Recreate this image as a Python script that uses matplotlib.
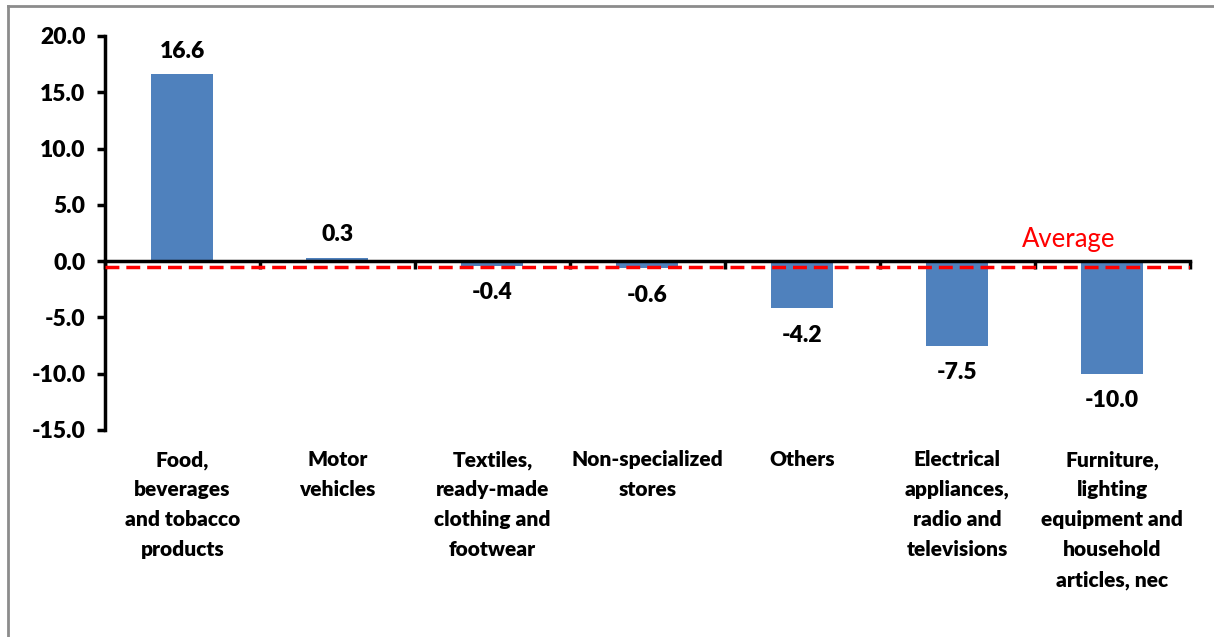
import matplotlib
matplotlib.use("Agg")
import matplotlib.pyplot as plt
import matplotlib.transforms as mtransforms
from matplotlib.lines import Line2D

categories = [
    "Food,\nbeverages\nand tobacco\nproducts",
    "Motor\nvehicles",
    "Textiles,\nready-made\nclothing and\nfootwear",
    "Non-specialized\nstores",
    "Others",
    "Electrical\nappliances,\nradio and\ntelevisions",
    "Furniture,\nlighting\nequipment and\nhousehold\narticles, nec",
]
values = [16.6, 0.3, -0.4, -0.6, -4.2, -7.5, -10.0]
average = -0.5
yticks = [-15, -10, -5, 0, 5, 10, 15, 20]

plt.rcParams['font.family'] = ['Lato', 'DejaVu Sans']

fig = plt.figure(figsize=(12.14, 6.37), dpi=100)
ax = fig.add_axes([0.0865, 0.325, 0.8935, 0.6185])

x = list(range(len(values)))
ax.bar(x, values, width=0.4, color="#4F81BD", zorder=2)
ax.set_xlim(-0.5, len(values) - 0.5)
ax.set_ylim(-15, 20)

ax.spines['top'].set_visible(False)
ax.spines['right'].set_visible(False)
ax.spines['left'].set_linewidth(2.5)
ax.spines['bottom'].set_linewidth(2.5)
ax.spines['bottom'].set_position(('data', 0))
ax.spines['bottom'].set_zorder(3)

ax.set_yticks(yticks)
ax.set_yticklabels([f"{v:.1f}" for v in yticks], fontsize=16.5, fontweight='heavy')
ax.tick_params(axis='y', direction='out', length=6, width=2.5, pad=8)

ax.set_xticks([])
ax.set_xticks([i - 0.5 for i in range(len(values) + 1)], minor=True)
ax.tick_params(axis='x', which='minor', direction='out', length=6, width=2.5, labelbottom=False)

# average line
ax.axhline(average, color="#FF0000", linestyle=(0, (4, 2)), linewidth=2.5, zorder=4)
ax.text(5.42, 1.9, "Average", color="#FF0000", fontsize=18.5, va='center', ha='left')

# data labels
for xi, v in zip(x, values):
    if v >= 0:
        ax.annotate(f"{v:.1f}", (xi, v), xytext=(0, 9), textcoords='offset points',
                    ha='center', va='bottom', fontsize=16.5, fontweight='heavy')
    else:
        ax.annotate(f"{v:.1f}", (xi, v), xytext=(0, -12), textcoords='offset points',
                    ha='center', va='top', fontsize=16.5, fontweight='heavy')

# category labels
trans = mtransforms.blended_transform_factory(ax.transData, fig.transFigure)
for xi, c in zip(x, categories):
    ax.text(xi, 1 - 450 / 637, c, transform=trans, ha='center', va='top',
            fontsize=15, fontweight='heavy', linespacing=1.68)

# figure border (top and left)
fig.add_artist(Line2D([8 / 1214, 1], [1 - 6 / 637, 1 - 6 / 637], color="#8C8C8C", lw=2,
                      transform=fig.transFigure))
fig.add_artist(Line2D([8 / 1214, 8 / 1214], [0, 1 - 6 / 637], color="#8C8C8C", lw=2,
                      transform=fig.transFigure))

fig.savefig("out.png", dpi=100)
